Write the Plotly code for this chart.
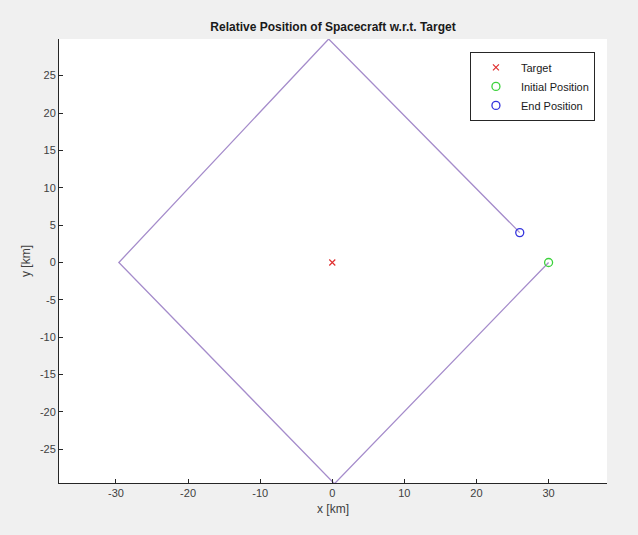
import plotly.graph_objects as go

# trajectory waypoints (km)
traj_x = [30.0, 0.3, -29.6, -0.5, 26.0]
traj_y = [0.0, -29.6, 0.0, 29.9, 4.0]

target = (0.0, 0.0)
initial = (30.0, 0.0)
end = (26.0, 4.0)

x_ticks = [-30, -20, -10, 0, 10, 20, 30]
x_labels = ["-30", "-20", "-10", "0", "10", "20", "30"]
y_ticks = [-25, -20, -15, -10, -5, 0, 5, 10, 15, 20, 25]
y_labels = ["-25", "-20", "-15", "-10", "-5", "0", "5", "10", "15", "20", "25"]

fig = go.Figure()
fig.add_trace(go.Scatter(x=traj_x, y=traj_y, mode="lines",
                         line=dict(color="#a58ccb", width=1.3),
                         showlegend=False, hoverinfo="skip"))
fig.add_trace(go.Scatter(x=[target[0]], y=[target[1]], mode="markers", name="Target",
                         marker=dict(symbol="x-thin", size=6, line=dict(color="#e03030", width=1.2),
                                     color="#e03030")))
fig.add_trace(go.Scatter(x=[initial[0]], y=[initial[1]], mode="markers", name="Initial Position",
                         marker=dict(symbol="circle-open", size=8, color="#3cd23c",
                                     line=dict(width=1.3))))
fig.add_trace(go.Scatter(x=[end[0]], y=[end[1]], mode="markers", name="End Position",
                         marker=dict(symbol="circle-open", size=8, color="#3333dd",
                                     line=dict(width=1.3))))

axis_common = dict(showgrid=False, zeroline=False, showline=True, linecolor="#262626",
                   linewidth=1, ticks="inside", ticklen=4, tickcolor="#262626",
                   tickfont=dict(size=11, color="#404040"), mirror=False)

fig.update_layout(
    width=638, height=535,
    paper_bgcolor="#f0f0f0", plot_bgcolor="white",
    margin=dict(l=59, r=31, t=39, b=52),
    font=dict(family="Liberation Sans, Arial, sans-serif", color="#262626"),
    title=dict(text="<b>Relative Position of Spacecraft w.r.t. Target</b>",
               x=(59 + 607) / 2 / 638, xanchor="center", y=1 - 27 / 535, yanchor="middle",
               font=dict(size=12, color="#1a1a1a")),
    xaxis=dict(range=[-37.9, 38.1], tickvals=x_ticks, ticktext=x_labels,
               title=dict(text="x [km]", font=dict(size=12, color="#404040"), standoff=6),
               **axis_common),
    yaxis=dict(range=[-29.5, 29.9], tickvals=y_ticks, ticktext=y_labels,
               title=dict(text="y [km]", font=dict(size=12, color="#404040"), standoff=6),
               **axis_common),
    legend=dict(x=0.978, y=0.971, xanchor="right", yanchor="top",
                bgcolor="white", bordercolor="#262626", borderwidth=1,
                font=dict(size=11, color="#1a1a1a"), tracegroupgap=0, itemwidth=40),
    showlegend=True,
)

fig.write_html("out.html")
